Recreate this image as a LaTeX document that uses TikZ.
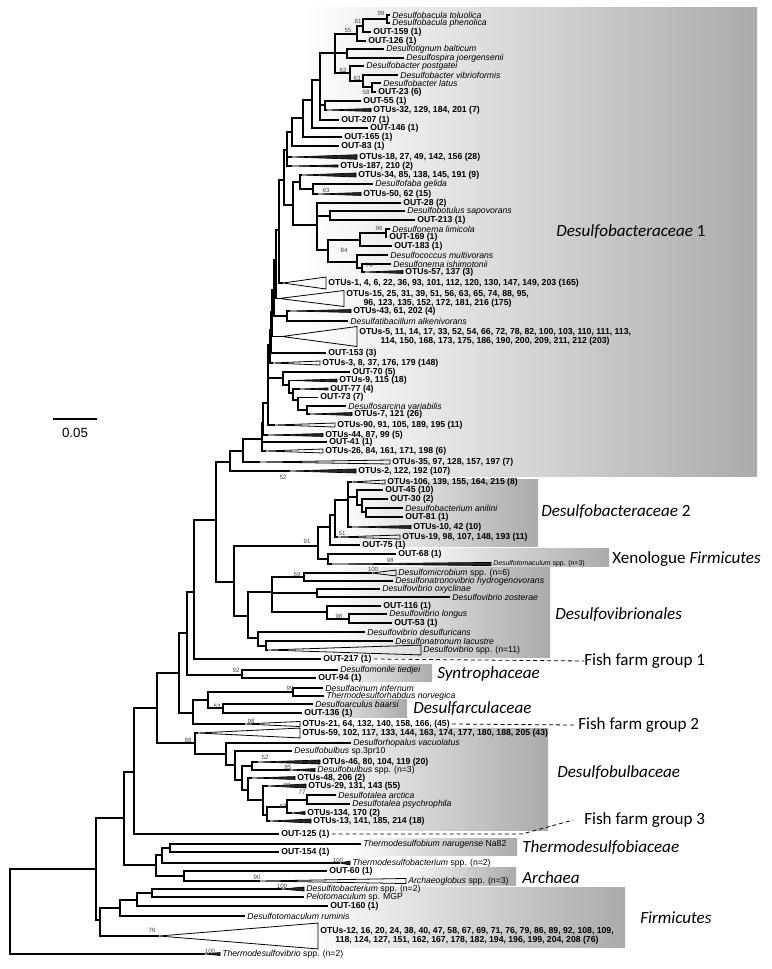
\documentclass[tikz,border=0pt]{standalone}
\usepackage{fontspec}
\newfontfamily\labfont{Liberation Sans}
\newfontfamily\grpfont{Carlito}
\tikzset{
  br/.style={line width=0.85pt},
  clps/.style={line width=0.6pt},
  clpsf/.style={line width=0.5pt, fill=black!85},
  otu/.style={anchor=west, inner xsep=1.5pt, inner ysep=0pt, font=\labfont\bfseries\fontsize{6.5}{6.8}\selectfont},
  spc/.style={anchor=west, inner xsep=1.5pt, inner ysep=0pt, font=\labfont\itshape\fontsize{6.5}{6.8}\selectfont},
  bs/.style={inner sep=0pt, text=black!75, font=\labfont\fontsize{4.6}{5}\selectfont},
  grp/.style={anchor=west, inner sep=0pt, font=\grpfont\fontsize{12.8}{14}\selectfont},
  grpbox/.style={left color=white, right color=black!33},
  ffline/.style={line width=0.6pt, dash pattern=on 3pt off 2.2pt}
}
\newcommand\wedgeto[4][clpsf]{\draw[#1] (#2) -- ([yshift=#4]#3.west) -- ([yshift=-#4]#3.west) -- cycle;}

\begin{document}
\begin{tikzpicture}[x=0.75pt,y=-0.75pt]
\useasboundingbox (0,0) rectangle (771,969);

%%%%% GROUP BOXES %%%%%
\shade[grpbox] (300,8) rectangle (757,476);
\shade[grpbox] (340,479) rectangle (538,546);
\shade[grpbox] (400,548) rectangle (609,566);
\shade[grpbox] (330,567) rectangle (550,657);
\shade[grpbox] (330,664) rectangle (432,681);
\shade[grpbox] (300,699) rectangle (407,717);
\shade[grpbox] (300,728) rectangle (548,830);
\shade[grpbox] (350,838) rectangle (517,855);
\shade[grpbox] (400,867) rectangle (516,885);
\shade[grpbox] (300,887) rectangle (625,947);

%%%%% LEAVES %%%%%
\node[spc] (t01) at (390,15) {Desulfobacula toluolica};
\node[spc] (t02) at (390,23) {Desulfobacula phenolica};
\node[otu] (t03) at (371,32) {OUT-159 (1)};
\node[otu] (t04) at (366,41) {OUT-126 (1)};
\node[spc] (t05) at (384,49) {Desulfotignum balticum};
\node[spc] (t06) at (404,58) {Desulfospira joergensenii};
\node[spc] (t07) at (364,66) {Desulfobacter postgatei};
\node[spc] (t08) at (398,75) {Desulfobacter vibrioformis};
\node[spc] (t09) at (381,83) {Desulfobacter latus};
\node[otu] (t10) at (376,92) {OUT-23 (6)};
\node[otu] (t11) at (361,101) {OUT-55 (1)};
\node[otu] (t12) at (371,110) {OTUs-32, 129, 184, 201 (7)};
\node[otu] (t13) at (339,120) {OUT-207 (1)};
\node[otu] (t14) at (368,128) {OUT-146 (1)};
\node[otu] (t15) at (342,137) {OUT-165 (1)};
\node[otu] (t16) at (339,146) {OUT-83 (1)};
\node[otu] (t17) at (357,157) {OTUs-18, 27, 49, 142, 156 (28)};
\node[otu] (t18) at (338,166) {OTUs-187, 210 (2)};
\node[otu] (t19) at (356,175) {OTUs-34, 85, 138, 145, 191 (9)};
\node[spc] (t20) at (373,184) {Desulfofaba gelida};
\node[otu] (t21) at (361,194) {OTUs-50, 62 (15)};
\node[otu] (t22) at (401,203) {OUT-28 (2)};
\node[spc] (t23) at (405,211) {Desulfobotulus sapovorans};
\node[otu] (t24) at (415,220) {OUT-213 (1)};
\node[spc] (t25) at (390,229) {Desulfonema limicola};
\node[otu] (t26) at (387,237) {OUT-169 (1)};
\node[otu] (t27) at (392,246) {OUT-183 (1)};
\node[spc] (t28) at (388,255) {Desulfococcus multivorans};
\node[spc] (t29) at (391,264) {Desulfonema ishimotonii};
\node[otu] (t30) at (403,272) {OTUs-57, 137 (3)};
\node[otu] (t31) at (326,283) {OTUs-1, 4, 6, 22, 36, 93, 101, 112, 120, 130, 147, 149, 203 (165)};
\node[otu, align=center] (t32) at (344,298.5) {OTUs-15, 25, 31, 39, 51, 56, 63, 65, 74, 88, 95,\\96, 123, 135, 152, 172, 181, 216 (175)};
\node[otu] (t33) at (351,311) {OTUs-43, 61, 202 (4)};
\node[spc] (t34) at (348,321) {Desulfatibacillum alkenivorans};
\node[otu, align=center] (t35) at (357,336.5) {OTUs-5, 11, 14, 17, 33, 52, 54, 66, 72, 78, 82, 100, 103, 110, 111, 113,\\114, 150, 168, 173, 175, 186, 190, 200, 209, 211, 212 (203)};
\node[otu] (t36) at (326,353) {OUT-153 (3)};
\node[otu] (t37) at (320,363) {OTUs-3, 8, 37, 176, 179 (148)};
\node[otu] (t38) at (350,372) {OUT-70 (5)};
\node[otu] (t39) at (337,380.5) {OTUs-9, 115 (18)};
\node[otu] (t40) at (328,389) {OUT-77 (4)};
\node[otu] (t41) at (318,397.5) {OUT-73 (7)};
\node[spc] (t42) at (346,406) {Desulfosarcina variabilis};
\node[otu] (t43) at (352,414) {OTUs-7, 121 (26)};
\node[otu] (t44) at (335,425) {OTUs-90, 91, 105, 189, 195 (11)};
\node[otu] (t45) at (323,435) {OTUs-44, 87, 99 (5)};
\node[otu] (t46) at (327,442) {OUT-41 (1)};
\node[otu] (t47) at (323,451) {OTUs-26, 84, 161, 171, 198 (6)};
\node[otu] (t48) at (390,462) {OTUs-35, 97, 128, 157, 197 (7)};
\node[otu] (t49) at (356,471) {OTUs-2, 122, 192 (107)};
\node[otu] (t50) at (385,482) {OTUs-106, 139, 155, 164, 215 (8)};
\node[otu] (t51) at (383,490) {OUT-45 (10)};
\node[otu] (t52) at (388,499) {OUT-30 (2)};
\node[spc] (t53) at (403,508) {Desulfobacterium anilini};
\node[otu] (t54) at (403,517) {OUT-81 (1)};
\node[otu] (t55) at (411,527) {OTUs-10, 42 (10)};
\node[otu] (t56) at (400,537) {OTUs-19, 98, 107, 148, 193 (11)};
\node[otu] (t57) at (360,545) {OUT-75 (1)};
\node[otu] (t58) at (396,554) {OUT-68 (1)};
\node[spc, font=\labfont\itshape\fontsize{5.2}{6}\selectfont] (t59) at (491,564) {Desulfotomaculum {\upshape spp. (n=3)}};
\node[spc] (t60) at (396,573) {Desulfomicrobium {\upshape spp. (n=6)}};
\node[spc] (t61) at (393,581) {Desulfonatronovibrio hydrogenovorans};
\node[spc] (t62) at (380,589) {Desulfovibrio oxyclinae};
\node[spc] (t63) at (450,597) {Desulfovibrio zosterae};
\node[otu] (t64) at (381,606) {OUT-116 (1)};
\node[spc] (t65) at (387,614) {Desulfovibrio longus};
\node[otu] (t66) at (392,623) {OUT-53 (1)};
\node[spc] (t67) at (365,632) {Desulfovibrio desulfuricans};
\node[spc] (t68) at (393,641) {Desulfonatronum lacustre};
\node[spc] (t69) at (421,650) {Desulfovibrio {\upshape spp. (n=11)}};
\node[otu] (t70) at (321,659) {OUT-217 (1)};
\node[spc] (t71) at (338,670) {Desulfomonile tiedjei};
\node[otu] (t72) at (316,678) {OUT-94 (1)};
\node[spc] (t73) at (323,688) {Desulfacinum infernum};
\node[spc] (t74) at (324,696) {Thermodesulforhabdus norvegica};
\node[spc] (t75) at (313,704) {Desulfoarculus baarsi};
\node[otu] (t76) at (302,713) {OUT-136 (1)};
\node[otu] (t77) at (300,724) {OTUs-21, 64, 132, 140, 158, 166, (45)};
\node[otu] (t78) at (300,733) {OTUs-59, 102, 117, 133, 144, 163, 174, 177, 180, 188, 205 (43)};
\node[spc] (t79) at (351,743) {Desulforhopalus vacuolatus};
\node[spc] (t80) at (292,751) {Desulfobulbus {\upshape sp.3pr10}};
\node[otu] (t81) at (320,762) {OTUs-46, 80, 104, 119 (20)};
\node[spc] (t82) at (315,770) {Desulfobulbus {\upshape spp. (n=3)}};
\node[otu] (t83) at (295,778) {OTUs-48, 206 (2)};
\node[otu] (t84) at (306,786) {OTUs-29, 131, 143 (55)};
\node[spc] (t85) at (336,795) {Desulfotalea arctica};
\node[spc] (t86) at (350,804) {Desulfotalea psychrophila};
\node[otu] (t87) at (305,813) {OTUs-134, 170 (2)};
\node[otu] (t88) at (311,821) {OTUs-13, 141, 185, 214 (18)};
\node[otu] (t89) at (279,834) {OUT-125 (1)};
\node[spc] (t90) at (361,844) {Thermodesulfobium narugense {\upshape Na82}};
\node[otu] (t91) at (279,852) {OUT-154 (1)};
\node[spc] (t92) at (350,863) {Thermodesulfobacterium {\upshape spp. (n=2)}};
\node[otu] (t93) at (327,871) {OUT-60 (1)};
\node[spc] (t94) at (406,881) {Archaeoglobus {\upshape spp. (n=3)}};
\node[spc] (t95) at (304,889) {Desulfitobacterium {\upshape spp. (n=2)}};
\node[spc] (t96) at (304,897) {Pelotomaculum {\upshape sp. MGP}};
\node[otu] (t97) at (328,906) {OUT-160 (1)};
\node[spc] (t98) at (245,916) {Desulfotomaculum ruminis};
\node[otu, align=center] (t99) at (318,936) {OTUs-12, 16, 20, 24, 38, 40, 47, 58, 67, 69, 71, 76, 79, 86, 89, 92, 108, 109,\\118, 124, 127, 151, 162, 167, 178, 182, 194, 196, 199, 204, 208 (76)};
\node[spc] (t100) at (220,954) {Thermodesulfovibrio {\upshape spp. (n=2)}};

%%%%% COLLAPSED CLADES %%%%%
\coordinate (t12a) at (327,110);  \wedgeto{t12a}{t12}{1.1pt}
\coordinate (t17a) at (292,157);  \wedgeto{t17a}{t17}{1.7pt}
\coordinate (t18a) at (292,166);  \wedgeto{t18a}{t18}{0.8pt}
\coordinate (t19a) at (302,175);  \wedgeto{t19a}{t19}{1.5pt}
\coordinate (t21a) at (318,194);  \wedgeto{t21a}{t21}{1.1pt}
\coordinate (t30a) at (365,272);  \wedgeto{t30a}{t30}{1.1pt}
\coordinate (t31a) at (283,283);  \wedgeto[clps]{t31a}{t31}{4.5pt}
\coordinate (t32a) at (279,298.5);\wedgeto[clps]{t32a}{t32}{6pt}
\coordinate (t33a) at (290,311);  \wedgeto{t33a}{t33}{1.1pt}
\coordinate (t35a) at (282,336.5);\wedgeto[clps]{t35a}{t35}{7.5pt}
\coordinate (t37a) at (273,363);  \wedgeto[clps]{t37a}{t37}{1.5pt}
\coordinate (t39a) at (292,380.5);\wedgeto{t39a}{t39}{1.1pt}
\coordinate (t40a) at (300,389);  \wedgeto{t40a}{t40}{0.8pt}
\coordinate (t43a) at (310,414);  \wedgeto{t43a}{t43}{1.1pt}
\coordinate (t44a) at (275,425);  \wedgeto[clps]{t44a}{t44}{1.5pt}
\coordinate (t45a) at (268,435);  \wedgeto{t45a}{t45}{1.1pt}
\coordinate (t47a) at (266,451);  \wedgeto[clps]{t47a}{t47}{1.5pt}
\coordinate (t48a) at (260,462);  \wedgeto[clps]{t48a}{t48}{1.5pt}
\coordinate (t49a) at (290,471);  \wedgeto{t49a}{t49}{1.5pt}
\coordinate (t50a) at (352,482);  \wedgeto[clps]{t50a}{t50}{1.5pt}
\coordinate (t55a) at (352,527);  \wedgeto{t55a}{t55}{1.1pt}
\coordinate (t56a) at (338,537);  \wedgeto[clps]{t56a}{t56}{1.5pt}
\coordinate (t59a) at (332,564);  \wedgeto{t59a}{t59}{1.2pt}
\coordinate (t60a) at (372,573);  \wedgeto[clps]{t60a}{t60}{2.2pt}
\coordinate (t69a) at (268,650);  \wedgeto[clps]{t69a}{t69}{3.7pt}
\coordinate (t77a) at (245,724);  \wedgeto[clps]{t77a}{t77}{1.9pt}
\coordinate (t78a) at (198,733);  \wedgeto[clps]{t78a}{t78}{3.7pt}
\coordinate (t81a) at (258,762);  \wedgeto{t81a}{t81}{1.5pt}
\coordinate (t82a) at (290,770);  \wedgeto{t82a}{t82}{1.1pt}
\coordinate (t83a) at (252,778);  \wedgeto{t83a}{t83}{1.1pt}
\coordinate (t84a) at (268,786);  \wedgeto{t84a}{t84}{1.5pt}
\coordinate (t87a) at (292,813);  \wedgeto{t87a}{t87}{1.1pt}
\coordinate (t88a) at (270,821);  \wedgeto{t88a}{t88}{1.5pt}
\coordinate (t92a) at (340,863);  \wedgeto{t92a}{t92}{1.5pt}
\coordinate (t94a) at (260,881);  \wedgeto[clps]{t94a}{t94}{1.9pt}
\coordinate (t95a) at (282,889);  \wedgeto{t95a}{t95}{1.5pt}
\coordinate (t99a) at (159,936);  \wedgeto[clps]{t99a}{t99}{9.7pt}
\coordinate (t100a) at (205,954); \wedgeto{t100a}{t100}{1.1pt}

%%%%% INNER NODES %%%%%
\coordinate (a1) at (387,19);
\coordinate (a2) at (363,26);
\coordinate (a3) at (357,34);
\coordinate (a4) at (347,53);
\coordinate (b1) at (372,87);
\coordinate (b2) at (363,81);
\coordinate (b3) at (350,73);
\coordinate (a5) at (335,53);
\coordinate (c1) at (325,105);
\coordinate (a7) at (320,80);
\coordinate (a8) at (312,100);
\coordinate (a9) at (303,118);
\coordinate (a10) at (292,132);
\coordinate (a11) at (287,150);
\coordinate (d1) at (313,189);
\coordinate (d2) at (300,182);
\coordinate (e1) at (330,216);
\coordinate (e2) at (386,233);
\coordinate (e3) at (360,240);
\coordinate (e5) at (362,268);
\coordinate (e6) at (357,262);
\coordinate (e4) at (328,250);
\coordinate (e7) at (317,225);
\coordinate (f1) at (293,205);
\coordinate (a12) at (284,180);
\coordinate (a13) at (279,230);
\coordinate (a14) at (276,260);
\coordinate (g1) at (287,316);
\coordinate (a15) at (274,290);
\coordinate (a16) at (272,312);
\coordinate (a17) at (271,330);
\coordinate (a18) at (270,345);
\coordinate (p5) at (307,410);
\coordinate (p4) at (298,400);
\coordinate (p3) at (293,393);
\coordinate (p2) at (289,385);
\coordinate (p1) at (283,378);
\coordinate (c0) at (268,403);
\coordinate (bb) at (263,423);
\coordinate (aa) at (262,439);
\coordinate (n243) at (243,451);
\coordinate (n230) at (230,462);
\coordinate (n1) at (366,512);
\coordinate (n2) at (362,505);
\coordinate (n3) at (357,497);
\coordinate (n4) at (348,500);
\coordinate (n5) at (335,515);
\coordinate (n6) at (330,527);
\coordinate (xen) at (328,559);
\coordinate (nx) at (318,546);
\coordinate (v59) at (304,577);
\coordinate (voz) at (317,593);
\coordinate (v96) at (349,619);
\coordinate (vol) at (327,612);
\coordinate (dv1) at (272,592);
\coordinate (dv5) at (266,646);
\coordinate (dv4) at (258,638);
\coordinate (dv) at (248,616);
\coordinate (n234) at (234,582);
\coordinate (n216) at (216,520);
\coordinate (n194) at (194,592);
\coordinate (syn) at (242,675);
\coordinate (n187) at (187,633);
\coordinate (v99) at (293,692);
\coordinate (v53) at (223,708);
\coordinate (n208) at (208,700);
\coordinate (n193) at (193,713);
\coordinate (n179) at (179,673);
\coordinate (u77) at (307,800);
\coordinate (u63) at (287,807);
\coordinate (u267) at (267,815);
\coordinate (u263) at (263,800);
\coordinate (u248) at (248,790);
\coordinate (u52) at (252,766);
\coordinate (u242) at (242,780);
\coordinate (u235) at (235,765);
\coordinate (u226) at (226,754);
\coordinate (u195) at (195,743);
\coordinate (n157) at (157,708);
\coordinate (n134) at (134,772);
\coordinate (q1) at (170,848);
\coordinate (q2) at (162,855);
\coordinate (qa) at (184,876);
\coordinate (q3) at (156,865);
\coordinate (n124) at (124,818);
\coordinate (f5) at (152,893);
\coordinate (f4) at (137,900);
\coordinate (f3) at (120,908);
\coordinate (fm1) at (100,920);
\coordinate (n96) at (96,869);
\coordinate (rt) at (10,910);

%%%%% BRANCHES %%%%%
\draw[br] (t01.west) -| (a1) |- (t02.west);
\draw[br] (a1) -| (a2) |- (t03.west);
\draw[br] (a2) -| (a3) |- (t04.west);
\draw[br] (t05.west) -| (a4) |- (t06.west);
\draw[br] (t09.west) -| (b1) |- (t10.west);
\draw[br] (t08.west) -| (b2) |- (b1);
\draw[br] (t07.west) -| (b3) |- (b2);
\draw[br] (a3) -| (a5) |- (b3) (a5) |- (a4);
\draw[br] (t11.west) -| (c1) |- (t12a);
\draw[br] (a5) -| (a7) |- (t13.west) (a7) |- (c1);
\draw[br] (a7) -| (a8) |- (t14.west);
\draw[br] (a8) -| (a9) |- (t15.west);
\draw[br] (a9) -| (a10) |- (t16.west);
\draw[br] (a10) -| (a11) |- (t18a) (a11) |- (t17a);
\draw[br] (t20.west) -| (d1) |- (t21a);
\draw[br] (t19a) -| (d2) |- (d1);
\draw[br] (t23.west) -| (e1) |- (t24.west);
\draw[br] (t25.west) -| (e2) |- (t26.west);
\draw[br] (e2) -| (e3) |- (t27.west);
\draw[br] (t29.west) -| (e5) |- (t30a);
\draw[br] (t28.west) -| (e6) |- (e5);
\draw[br] (e3) -| (e4) |- (e6);
\draw[br] (t22.west) -| (e7) |- (e4) (e7) |- (e1);
\draw[br] (d2) -| (f1) |- (e7);
\draw[br] (a11) -| (a12) |- (f1);
\draw[br] (a12) -| (a13) |- (t31a);
\draw[br] (a13) -| (a14) |- (t32a);
\draw[br] (t33a) -| (g1) |- (t34.west);
\draw[br] (a14) -| (a15) |- (g1);
\draw[br] (a15) -| (a16) |- (t35a);
\draw[br] (a16) -| (a17) |- (t36.west);
\draw[br] (a17) -| (a18) |- (t37a);
\draw[br] (t42.west) -| (p5) |- (t43a);
\draw[br] (t41.west) -| (p4) |- (p5);
\draw[br] (t40a) -| (p3) |- (p4);
\draw[br] (t39a) -| (p2) |- (p3);
\draw[br] (t38.west) -| (p1) |- (p2);
\draw[br] (a18) -| (c0) |- (t44a) (c0) |- (p1);
\draw[br] (c0) -| (bb) |- (t45a);
\draw[br] (bb) -| (aa) |- (t47a) (aa) |- (t46.west);
\draw[br] (aa) -| (n243) |- (t48a);
\draw[br] (n243) -| (n230) |- (t49a);

\draw[br] (t53.west) -| (n1) |- (t54.west);
\draw[br] (t52.west) -| (n2) |- (n1);
\draw[br] (t51.west) -| (n3) |- (n2);
\draw[br] (t50a) -| (n4) |- (t55a) (n4) |- (n3);
\draw[br] (n4) -| (n5) |- (t56a);
\draw[br] (n5) -| (n6) |- (t57.west);
\draw[br] (t58.west) -| (xen) |- (t59a);
\draw[br] (n6) -| (nx) |- (xen);

\draw[br] (t60a) -| (v59) |- (t61.west);
\draw[br] (t62.west) -| (voz) |- (t63.west);
\draw[br] (t65.west) -| (v96) |- (t66.west);
\draw[br] (t64.west) -| (vol) |- (v96);
\draw[br] (v59) -| (dv1) |- (vol) (dv1) |- (voz);
\draw[br] (t68.west) -| (dv5) |- (t69a);
\draw[br] (t67.west) -| (dv4) |- (dv5);
\draw[br] (dv1) -| (dv) |- (dv4);
\draw[br] (nx) -| (n234) |- (dv);
\draw[br] (n230) -| (n216) |- (n234);
\draw[br] (n216) -| (n194) |- (t70.west);
\draw[br] (t71.west) -| (syn) |- (t72.west);
\draw[br] (n194) -| (n187) |- (syn);

\draw[br] (t73.west) -| (v99) |- (t74.west);
\draw[br] (t75.west) -| (v53) |- (t76.west);
\draw[br] (v99) -| (n208) |- (v53);
\draw[br] (n208) -| (n193) |- (t77a);
\draw[br] (n187) -| (n179) |- (n193);

\draw[br] (t85.west) -| (u77) |- (t86.west);
\draw[br] (u77) -| (u63) |- (t87a);
\draw[br] (u63) -| (u267) |- (t88a);
\draw[br] (t84a) -| (u263) |- (u267);
\draw[br] (t83a) -| (u248) |- (u263);
\draw[br] (t81a) -| (u52) |- (t82a);
\draw[br] (u52) -| (u242) |- (u248);
\draw[br] (t80.west) -| (u235) |- (u242);
\draw[br] (t79.west) -| (u226) |- (u235);
\draw[br] (t78a) -| (u195) |- (u226);
\draw[br] (n179) -| (n157) |- (u195);
\draw[br] (n157) -| (n134) |- (t89.west);

\draw[br] (t90.west) -| (q1) |- (t91.west);
\draw[br] (q1) -| (q2) |- (t92a);
\draw[br] (t93.west) -| (qa) |- (t94a);
\draw[br] (q2) -| (q3) |- (qa);
\draw[br] (n134) -| (n124) |- (q3);
\draw[br] (t95a) -| (f5) |- (t96.west);
\draw[br] (f5) -| (f4) |- (t97.west);
\draw[br] (f4) -| (f3) |- (t98.west);
\draw[br] (f3) -| (fm1) |- (t99a);
\draw[br] (n124) -| (n96) |- (fm1);
\draw[br] (n96) -| (rt) |- (t100a);

%%%%% SUPPORT VALUES %%%%%
\foreach \v/\x/\y in {99/381/13, 61/358/21, 55/348/30, 62/343/70, 63/357/78, 58/366/92,
    63/326/190, 96/379/228, 84/344/250, 74/369/265, 52/283/477, 51/342/533, 91/307/541,
    98/390/560, 100/373/569, 59/297/574, 96/339/616, 92/236/670, 99/290/688, 53/217/706,
    98/251/721, 88/188/740, 52/265/757, 85/288/767, 92/287/785, 77/302/792, 63/283/806,
    100/338/860, 90/257/877, 100/282/886, 76/152/930, 100/210/951}
  \node[bs] at (\x,\y) {\v};

%%%%% GROUP LABELS %%%%%
\node[grp] (g-dbac1) at (556,232) {\textit{Desulfobacteraceae} 1};
\node[grp] (g-dbac2) at (541,512) {\textit{Desulfobacteraceae} 2};
\node[grp] (g-xeno) at (612,559) {Xenologue \textit{Firmicutes}};
\node[grp] (g-dvib) at (555,615) {\textit{Desulfovibrionales}};
\node[grp] (g-ff1) at (584,661) {Fish farm group 1};
\node[grp] (g-synt) at (437,674) {\textit{Syntrophaceae}};
\node[grp] (g-darc) at (413,709) {\textit{Desulfarculaceae}};
\node[grp] (g-ff2) at (578,725) {Fish farm group 2};
\node[grp] (g-dbul) at (557,773) {\textit{Desulfobulbaceae}};
\node[grp] (g-ff3) at (584,820) {Fish farm group 3};
\node[grp] (g-tdsb) at (522,848) {\textit{Thermodesulfobiaceae}};
\node[grp] (g-arch) at (522,878) {\textit{Archaea}};
\node[grp] (g-firm) at (640,918) {\textit{Firmicutes}};

\draw[ffline] (t70.east) -- (g-ff1.west);
\draw[ffline] (t77.east) -- ([xshift=-3pt]g-ff2.west);
\coordinate (ff3bend) at (522,834);
\draw[ffline] (t89.east) -- (ff3bend) -- ([xshift=-8pt]g-ff3.west);

%%%%% SCALE BAR %%%%%
\coordinate (sb1) at (53,419);
\coordinate (sb2) at (97,419);
\draw[br] (sb1) -- (sb2);
\node[font=\labfont\fontsize{10}{12}\selectfont] (sbl) at (75,433) {0.05};

\end{tikzpicture}
\end{document}
